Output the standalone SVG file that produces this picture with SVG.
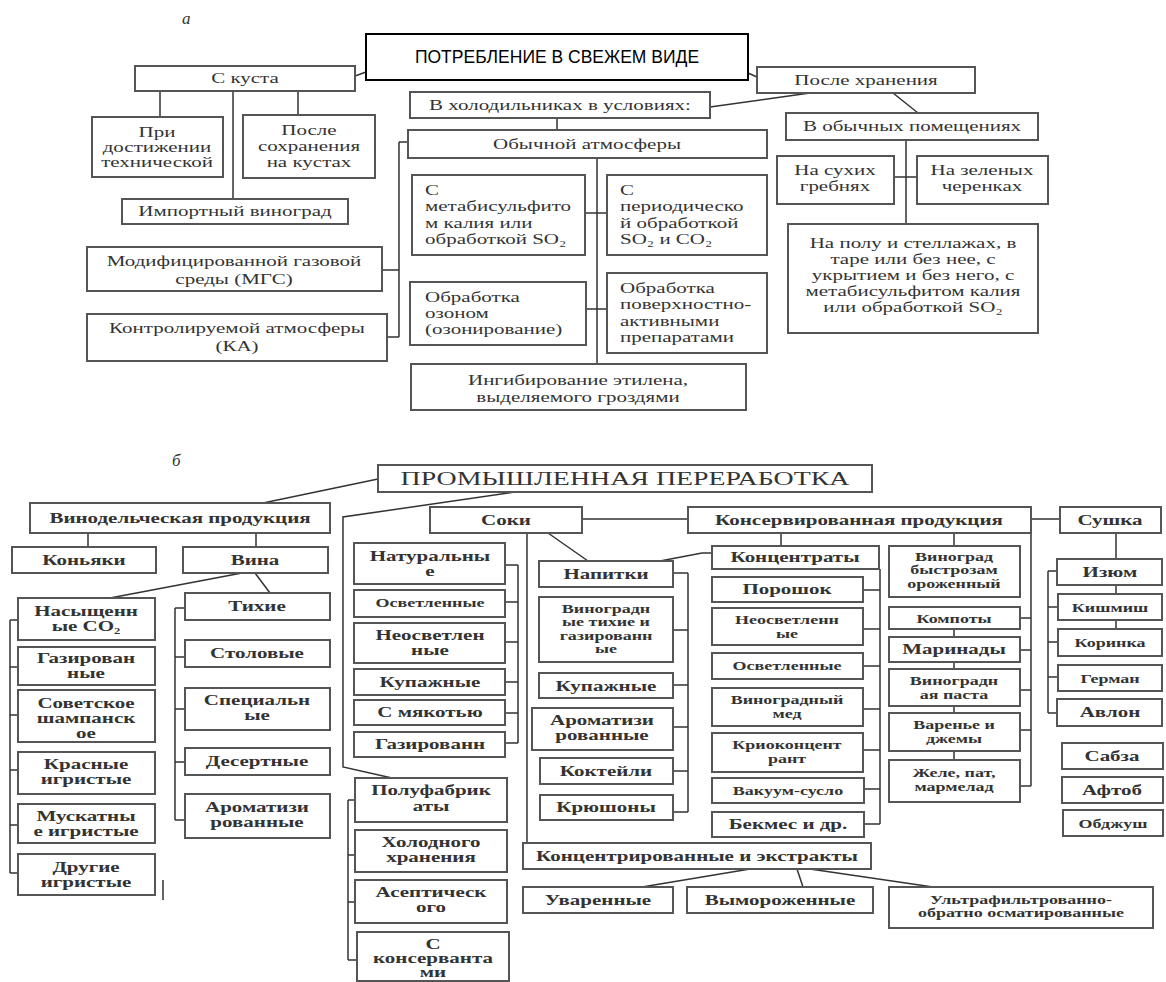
<svg xmlns="http://www.w3.org/2000/svg" width="1166" height="982" viewBox="0 0 1166 982">
<style>
  .bx{fill:#fff;stroke:#555;stroke-width:2}
  .bk{fill:#fff;stroke:#000;stroke-width:2}
  .ln{fill:none;stroke:#333;stroke-width:1.5}
  .t{font-family:"Liberation Serif","Times New Roman",serif;font-size:15px;fill:#333;text-anchor:middle}
  .tl{font-family:"Liberation Serif","Times New Roman",serif;font-size:15px;fill:#333;text-anchor:start}
  .b{font-family:"Liberation Serif","Times New Roman",serif;font-size:14px;font-weight:bold;fill:#333;text-anchor:middle}
  .bs{font-family:"Liberation Serif","Times New Roman",serif;font-size:12px;font-weight:bold;fill:#333;text-anchor:middle}
  .h{font-family:"Liberation Sans",Arial,sans-serif;font-size:17.5px;fill:#000;text-anchor:middle}
  .hp{font-family:"Liberation Serif","Times New Roman",serif;font-size:18px;fill:#333;text-anchor:middle}
  .lab{font-family:"Liberation Serif","Times New Roman",serif;font-size:17px;font-style:italic;fill:#333}
</style>
<rect width="1166" height="982" fill="#fff"/>

<!-- part a: fresh consumption -->
<text class="lab" x="182" y="24">а</text>

<g id="connectors-a">
  <path class="ln" d="M355,76 L366,72"/>
  <path class="ln" d="M160,91 V117 M298,91 V115 M233,91 V199"/>
  <path class="ln" d="M399,142 V337 M382,270 H399 M387,337 H399 M399,142 H408"/>
  <path class="ln" d="M557,118 V130 M710,107 L810,93"/>
  <path class="ln" d="M597,158 V364 M585,213 H607 M586,309 H607"/>
  <path class="ln" d="M748,73 L757,77 M893,93 L918,113"/>
  <path class="ln" d="M906,140 V224 M894,177 H917"/>
</g>

<g id="n-fresh">
  <rect class="bk" x="366" y="34" width="382" height="46"/>
  <text class="h" x="557" y="63">ПОТРЕБЛЕНИЕ В СВЕЖЕМ ВИДЕ</text>
</g>
<g id="n-bush">
  <rect class="bx" x="135" y="66" width="220" height="25"/>
  <text class="t" transform="translate(245,83) scale(1.4 1)">С куста</text>
</g>
<g id="n-ripe">
  <rect class="bx" x="92" y="117" width="131" height="60"/>
  <text class="t" transform="translate(157,137) scale(1.4 1)"><tspan x="0">При</tspan><tspan x="0" dy="15">достижении</tspan><tspan x="0" dy="15">технической</tspan></text>
</g>
<g id="n-kept">
  <rect class="bx" x="243" y="115" width="132" height="63"/>
  <text class="t" transform="translate(309,135) scale(1.4 1)"><tspan x="0">После</tspan><tspan x="0" dy="16">сохранения</tspan><tspan x="0" dy="16">на кустах</tspan></text>
</g>
<g id="n-import">
  <rect class="bx" x="122" y="199" width="226" height="25"/>
  <text class="t" transform="translate(235,216) scale(1.4 1)">Импортный виноград</text>
</g>
<g id="n-mgs">
  <rect class="bx" x="87" y="247" width="295" height="44"/>
  <text class="t" transform="translate(234,266) scale(1.4 1)"><tspan x="0">Модифицированной газовой</tspan><tspan x="0" dy="18">среды (МГС)</tspan></text>
</g>
<g id="n-ka">
  <rect class="bx" x="87" y="314" width="300" height="47"/>
  <text class="t" transform="translate(237,333) scale(1.4 1)"><tspan x="0">Контролируемой атмосферы</tspan><tspan x="0" dy="18">(КА)</tspan></text>
</g>
<g id="n-fridge">
  <rect class="bx" x="410" y="92" width="300" height="26"/>
  <text class="t" transform="translate(560,110) scale(1.4 1)">В холодильниках в условиях:</text>
</g>
<g id="n-normal">
  <rect class="bx" x="408" y="130" width="359" height="28"/>
  <text class="t" transform="translate(587,149) scale(1.4 1)">Обычной атмосферы</text>
</g>
<g id="n-metabi">
  <rect class="bx" x="412" y="175" width="173" height="80"/>
  <text class="tl" transform="translate(425,195) scale(1.4 1)"><tspan x="0">С</tspan><tspan x="0" dy="16.5">метабисульфито</tspan><tspan x="0" dy="16.5">м калия или</tspan><tspan x="0" dy="16.5">обработкой SO₂</tspan></text>
</g>
<g id="n-period">
  <rect class="bx" x="607" y="175" width="160" height="80"/>
  <text class="tl" transform="translate(620,195) scale(1.4 1)"><tspan x="0">С</tspan><tspan x="0" dy="16.5">периодическо</tspan><tspan x="0" dy="16.5">й обработкой</tspan><tspan x="0" dy="16.5">SO₂ и CO₂</tspan></text>
</g>
<g id="n-ozone">
  <rect class="bx" x="410" y="282" width="176" height="63"/>
  <text class="tl" transform="translate(425,302) scale(1.4 1)"><tspan x="0">Обработка</tspan><tspan x="0" dy="16">озоном</tspan><tspan x="0" dy="16">(озонирование)</tspan></text>
</g>
<g id="n-surf">
  <rect class="bx" x="607" y="273" width="160" height="80"/>
  <text class="tl" transform="translate(620,293) scale(1.4 1)"><tspan x="0">Обработка</tspan><tspan x="0" dy="16.5">поверхностно-</tspan><tspan x="0" dy="16.5">активными</tspan><tspan x="0" dy="16.5">препаратами</tspan></text>
</g>
<g id="n-ethylene">
  <rect class="bx" x="411" y="364" width="335" height="46"/>
  <text class="t" transform="translate(578,385) scale(1.4 1)"><tspan x="0">Ингибирование этилена,</tspan><tspan x="0" dy="17">выделяемого гроздями</tspan></text>
</g>
<g id="n-after">
  <rect class="bx" x="757" y="67" width="218" height="26"/>
  <text class="t" transform="translate(866,85) scale(1.4 1)">После хранения</text>
</g>
<g id="n-rooms">
  <rect class="bx" x="786" y="113" width="252" height="27"/>
  <text class="t" transform="translate(912,131) scale(1.4 1)">В обычных помещениях</text>
</g>
<g id="n-dry">
  <rect class="bx" x="777" y="156" width="117" height="48"/>
  <text class="t" transform="translate(835,175) scale(1.4 1)"><tspan x="0">На сухих</tspan><tspan x="0" dy="16">гребнях</tspan></text>
</g>
<g id="n-green">
  <rect class="bx" x="917" y="156" width="131" height="48"/>
  <text class="t" transform="translate(982,175) scale(1.4 1)"><tspan x="0">На зеленых</tspan><tspan x="0" dy="16">черенках</tspan></text>
</g>
<g id="n-floor">
  <rect class="bx" x="788" y="224" width="250" height="109"/>
  <text class="t" transform="translate(913,248) scale(1.4 1)"><tspan x="0">На полу и стеллажах, в</tspan><tspan x="0" dy="16">таре или без нее, с</tspan><tspan x="0" dy="16">укрытием и без него, с</tspan><tspan x="0" dy="16">метабисульфитом калия</tspan><tspan x="0" dy="16">или обработкой SO₂</tspan></text>
</g>

<!-- part b: industrial processing -->
<text class="lab" x="172" y="466">б</text>

<g id="connectors-b">
  <path class="ln" d="M378,479 L263,503 M515,492 L343,517 V767 L392,778"/>
  <path class="ln" d="M88,533 V547 M256,533 V547 M242,573 L110,598 M255,573 L270,593"/>
  <path class="ln" d="M10,620 V873 M10,620 H18 M10,667 H18 M10,715 H18 M10,770 H18 M10,825 H18 M10,873 H18"/>
  <path class="ln" d="M163,880 V900"/>
  <path class="ln" d="M175,608 V820 M175,608 H185 M175,657 H185 M175,709 H185 M175,762 H185 M175,820 H185"/>
  <path class="ln" d="M582,519 H688 M527,533 V843 M548,533 L588,561"/>
  <path class="ln" d="M518,565 V743 M505,565 H518 M505,602 H518 M505,642 H518 M505,682 H518 M505,713 H518 M505,743 H518"/>
  <path class="ln" d="M348,800 V960 M348,800 H355 M348,855 H355 M348,902 H355 M348,960 H357"/>
  <path class="ln" d="M688,573 V812 M673,573 H688 M673,630 H688 M673,685 H688 M673,727 H688 M673,771 H688 M673,812 H688"/>
  <path class="ln" d="M660,561 L702,553 H712"/>
  <path class="ln" d="M781,533 V546 M954,533 V546"/>
  <path class="ln" d="M880,569 V824 M863,590 H880 M863,629 H880 M863,666 H880 M863,709 H880 M863,750 H880 M864,789 H880 M864,824 H880"/>
  <path class="ln" d="M1031,533 V786 M1020,618 H1031 M1020,650 H1031 M1020,690 H1031 M1020,730 H1031 M1020,786 H1031"/>
  <path class="ln" d="M954,629 V637 M954,662 V669 M954,706 V713 M954,751 V760"/>
  <path class="ln" d="M1031,519 H1060 M1116,533 V559 M1116,585 V594 M1116,620 V629"/>
  <path class="ln" d="M1048,571 V713 M1048,571 H1057 M1048,607 H1058 M1048,642 H1058 M1048,677 H1058 M1048,713 H1057"/>
  <path class="ln" d="M750,869 L642,887 M797,869 L803,887 M810,869 L933,887"/>
</g>

<g id="n-industry">
  <rect class="bx" x="378" y="465" width="494" height="27"/>
  <text class="hp" transform="translate(625,485) scale(1.55 1)">ПРОМЫШЛЕННАЯ ПЕРЕРАБОТКА</text>
</g>
<g id="n-wine">
  <rect class="bx" x="30" y="503" width="300" height="30"/>
  <text class="b" transform="translate(180,523) scale(1.5 1)">Винодельческая продукция</text>
</g>
<g id="n-cognac">
  <rect class="bx" x="12" y="547" width="144" height="26"/>
  <text class="b" transform="translate(84,565) scale(1.5 1)">Коньяки</text>
</g>
<g id="n-wines">
  <rect class="bx" x="183" y="547" width="145" height="26"/>
  <text class="b" transform="translate(255,565) scale(1.5 1)">Вина</text>
</g>
<g id="n-co2">
  <rect class="bx" x="18" y="598" width="137" height="42"/>
  <text class="b" transform="translate(86,616) scale(1.5 1)"><tspan x="0">Насыщенн</tspan><tspan x="0" dy="15">ые CO₂</tspan></text>
</g>
<g id="n-sparkling">
  <rect class="bx" x="18" y="647" width="137" height="38"/>
  <text class="b" transform="translate(86,663) scale(1.5 1)"><tspan x="0">Газирован</tspan><tspan x="0" dy="15">ные</tspan></text>
</g>
<g id="n-champagne">
  <rect class="bx" x="18" y="690" width="137" height="52"/>
  <text class="b" transform="translate(86,708) scale(1.5 1)"><tspan x="0">Советское</tspan><tspan x="0" dy="15">шампанск</tspan><tspan x="0" dy="15">ое</tspan></text>
</g>
<g id="n-red">
  <rect class="bx" x="18" y="752" width="137" height="42"/>
  <text class="b" transform="translate(86,769) scale(1.5 1)"><tspan x="0">Красные</tspan><tspan x="0" dy="15">игристые</tspan></text>
</g>
<g id="n-muscat">
  <rect class="bx" x="18" y="804" width="137" height="39"/>
  <text class="b" transform="translate(86,821) scale(1.5 1)"><tspan x="0">Мускатны</tspan><tspan x="0" dy="15">е игристые</tspan></text>
</g>
<g id="n-other">
  <rect class="bx" x="18" y="854" width="137" height="41"/>
  <text class="b" transform="translate(86,872) scale(1.5 1)"><tspan x="0">Другие</tspan><tspan x="0" dy="15">игристые</tspan></text>
</g>
<g id="n-still">
  <rect class="bx" x="185" y="593" width="145" height="27"/>
  <text class="b" transform="translate(257,611) scale(1.5 1)">Тихие</text>
</g>
<g id="n-table">
  <rect class="bx" x="185" y="640" width="145" height="27"/>
  <text class="b" transform="translate(257,658) scale(1.5 1)">Столовые</text>
</g>
<g id="n-special">
  <rect class="bx" x="185" y="688" width="145" height="42"/>
  <text class="b" transform="translate(257,705) scale(1.5 1)"><tspan x="0">Специальн</tspan><tspan x="0" dy="15">ые</tspan></text>
</g>
<g id="n-dessert">
  <rect class="bx" x="185" y="748" width="145" height="27"/>
  <text class="b" transform="translate(257,766) scale(1.5 1)">Десертные</text>
</g>
<g id="n-arom-wine">
  <rect class="bx" x="185" y="794" width="145" height="44"/>
  <text class="b" transform="translate(257,812) scale(1.5 1)"><tspan x="0">Ароматизи</tspan><tspan x="0" dy="15">рованные</tspan></text>
</g>

<g id="n-juice">
  <rect class="bx" x="430" y="507" width="152" height="26"/>
  <text class="b" transform="translate(506,525) scale(1.5 1)">Соки</text>
</g>
<g id="n-natural">
  <rect class="bx" x="354" y="543" width="151" height="41"/>
  <text class="b" transform="translate(430,561) scale(1.5 1)"><tspan x="0">Натуральны</tspan><tspan x="0" dy="15">е</tspan></text>
</g>
<g id="n-clar1">
  <rect class="bx" x="354" y="590" width="151" height="27"/>
  <text class="bs" transform="translate(430,607) scale(1.5 1)">Осветленные</text>
</g>
<g id="n-unclar1">
  <rect class="bx" x="354" y="623" width="151" height="40"/>
  <text class="b" transform="translate(430,640) scale(1.5 1)"><tspan x="0">Неосветлен</tspan><tspan x="0" dy="15">ные</tspan></text>
</g>
<g id="n-blend1">
  <rect class="bx" x="354" y="669" width="151" height="26"/>
  <text class="b" transform="translate(430,687) scale(1.5 1)">Купажные</text>
</g>
<g id="n-pulp">
  <rect class="bx" x="354" y="700" width="151" height="25"/>
  <text class="b" transform="translate(430,717) scale(1.5 1)">С мякотью</text>
</g>
<g id="n-carb">
  <rect class="bx" x="354" y="732" width="151" height="25"/>
  <text class="b" transform="translate(430,749) scale(1.5 1)">Газированн</text>
</g>
<g id="n-semi">
  <rect class="bx" x="355" y="778" width="152" height="44"/>
  <text class="b" transform="translate(431,795) scale(1.5 1)"><tspan x="0">Полуфабрик</tspan><tspan x="0" dy="16">аты</tspan></text>
</g>
<g id="n-cold">
  <rect class="bx" x="355" y="830" width="152" height="42"/>
  <text class="b" transform="translate(431,847) scale(1.5 1)"><tspan x="0">Холодного</tspan><tspan x="0" dy="15">хранения</tspan></text>
</g>
<g id="n-aseptic">
  <rect class="bx" x="355" y="880" width="152" height="43"/>
  <text class="b" transform="translate(431,897) scale(1.5 1)"><tspan x="0">Асептическ</tspan><tspan x="0" dy="15">ого</tspan></text>
</g>
<g id="n-preserv">
  <rect class="bx" x="357" y="932" width="152" height="49"/>
  <text class="b" transform="translate(433,949) scale(1.5 1)"><tspan x="0">С</tspan><tspan x="0" dy="14">консерванта</tspan><tspan x="0" dy="14">ми</tspan></text>
</g>

<g id="n-drinks">
  <rect class="bx" x="539" y="561" width="134" height="26"/>
  <text class="b" transform="translate(606,579) scale(1.5 1)">Напитки</text>
</g>
<g id="n-grape-drinks">
  <rect class="bx" x="539" y="597" width="134" height="65"/>
  <text class="bs" transform="translate(606,613) scale(1.5 1)"><tspan x="0">Виноградн</tspan><tspan x="0" dy="13.5">ые тихие и</tspan><tspan x="0" dy="13.5">газированн</tspan><tspan x="0" dy="13.5">ые</tspan></text>
</g>
<g id="n-blend2">
  <rect class="bx" x="539" y="673" width="134" height="25"/>
  <text class="b" transform="translate(606,691) scale(1.5 1)">Купажные</text>
</g>
<g id="n-arom-drinks">
  <rect class="bx" x="532" y="708" width="141" height="42"/>
  <text class="b" transform="translate(602,725) scale(1.5 1)"><tspan x="0">Ароматизи</tspan><tspan x="0" dy="15">рованные</tspan></text>
</g>
<g id="n-cocktails">
  <rect class="bx" x="540" y="758" width="133" height="26"/>
  <text class="b" transform="translate(606,776) scale(1.5 1)">Коктейли</text>
</g>
<g id="n-punch">
  <rect class="bx" x="540" y="795" width="133" height="25"/>
  <text class="b" transform="translate(606,812) scale(1.5 1)">Крюшоны</text>
</g>

<g id="n-canned">
  <rect class="bx" x="688" y="507" width="343" height="26"/>
  <text class="b" transform="translate(859,525) scale(1.5 1)">Консервированная продукция</text>
</g>
<g id="n-conc">
  <rect class="bx" x="712" y="546" width="167" height="23"/>
  <text class="b" transform="translate(795,562) scale(1.5 1)">Концентраты</text>
</g>
<g id="n-powder">
  <rect class="bx" x="712" y="577" width="151" height="25"/>
  <text class="b" transform="translate(787,594) scale(1.5 1)">Порошок</text>
</g>
<g id="n-unclar2">
  <rect class="bx" x="712" y="608" width="151" height="37"/>
  <text class="bs" transform="translate(787,624) scale(1.5 1)"><tspan x="0">Неосветленн</tspan><tspan x="0" dy="14">ые</tspan></text>
</g>
<g id="n-clar2">
  <rect class="bx" x="712" y="653" width="151" height="26"/>
  <text class="bs" transform="translate(787,670) scale(1.5 1)">Осветленные</text>
</g>
<g id="n-honey">
  <rect class="bx" x="712" y="688" width="151" height="38"/>
  <text class="bs" transform="translate(787,704) scale(1.5 1)"><tspan x="0">Виноградный</tspan><tspan x="0" dy="14">мед</tspan></text>
</g>
<g id="n-cryo">
  <rect class="bx" x="712" y="733" width="151" height="39"/>
  <text class="bs" transform="translate(787,749) scale(1.5 1)"><tspan x="0">Криоконцент</tspan><tspan x="0" dy="14">рант</tspan></text>
</g>
<g id="n-vacuum">
  <rect class="bx" x="712" y="778" width="152" height="25"/>
  <text class="bs" transform="translate(788,795) scale(1.5 1)">Вакуум-сусло</text>
</g>
<g id="n-bekmes">
  <rect class="bx" x="712" y="812" width="152" height="25"/>
  <text class="b" transform="translate(788,829) scale(1.5 1)">Бекмес и др.</text>
</g>

<g id="n-frozen">
  <rect class="bx" x="889" y="546" width="131" height="51"/>
  <text class="bs" transform="translate(954,561) scale(1.5 1)"><tspan x="0">Виноград</tspan><tspan x="0" dy="13.5">быстрозам</tspan><tspan x="0" dy="13.5">ороженный</tspan></text>
</g>
<g id="n-compote">
  <rect class="bx" x="889" y="607" width="131" height="22"/>
  <text class="bs" transform="translate(954,623) scale(1.5 1)">Компоты</text>
</g>
<g id="n-marinade">
  <rect class="bx" x="889" y="637" width="131" height="25"/>
  <text class="b" transform="translate(954,654) scale(1.5 1)">Маринады</text>
</g>
<g id="n-paste">
  <rect class="bx" x="889" y="669" width="131" height="37"/>
  <text class="bs" transform="translate(954,685) scale(1.5 1)"><tspan x="0">Виноградн</tspan><tspan x="0" dy="14">ая паста</tspan></text>
</g>
<g id="n-jam">
  <rect class="bx" x="889" y="713" width="131" height="38"/>
  <text class="bs" transform="translate(954,729) scale(1.5 1)"><tspan x="0">Варенье и</tspan><tspan x="0" dy="14">джемы</tspan></text>
</g>
<g id="n-jelly">
  <rect class="bx" x="889" y="760" width="131" height="42"/>
  <text class="bs" transform="translate(954,777) scale(1.5 1)"><tspan x="0">Желе, пат,</tspan><tspan x="0" dy="14">мармелад</tspan></text>
</g>

<g id="n-dried">
  <rect class="bx" x="1060" y="507" width="101" height="26"/>
  <text class="b" transform="translate(1110,525) scale(1.5 1)">Сушка</text>
</g>
<g id="n-raisin">
  <rect class="bx" x="1057" y="559" width="105" height="26"/>
  <text class="b" transform="translate(1110,577) scale(1.5 1)">Изюм</text>
</g>
<g id="n-kishmish">
  <rect class="bx" x="1058" y="594" width="104" height="26"/>
  <text class="bs" transform="translate(1110,612) scale(1.5 1)">Кишмиш</text>
</g>
<g id="n-corinth">
  <rect class="bx" x="1058" y="629" width="104" height="27"/>
  <text class="bs" transform="translate(1110,647) scale(1.5 1)">Коринка</text>
</g>
<g id="n-german">
  <rect class="bx" x="1058" y="665" width="104" height="26"/>
  <text class="bs" transform="translate(1110,683) scale(1.5 1)">Герман</text>
</g>
<g id="n-avlon">
  <rect class="bx" x="1057" y="699" width="105" height="27"/>
  <text class="b" transform="translate(1110,717) scale(1.5 1)">Авлон</text>
</g>
<g id="n-sabza">
  <rect class="bx" x="1062" y="743" width="101" height="26"/>
  <text class="b" transform="translate(1112,761) scale(1.5 1)">Сабза</text>
</g>
<g id="n-aftob">
  <rect class="bx" x="1062" y="777" width="101" height="26"/>
  <text class="b" transform="translate(1112,795) scale(1.5 1)">Афтоб</text>
</g>
<g id="n-obdzhush">
  <rect class="bx" x="1063" y="810" width="100" height="26"/>
  <text class="bs" transform="translate(1113,828) scale(1.5 1)">Обджуш</text>
</g>

<g id="n-extracts">
  <rect class="bx" x="523" y="843" width="348" height="26"/>
  <text class="b" transform="translate(697,861) scale(1.5 1)">Концентрированные и экстракты</text>
</g>
<g id="n-boiled">
  <rect class="bx" x="523" y="887" width="150" height="26"/>
  <text class="b" transform="translate(598,905) scale(1.5 1)">Уваренные</text>
</g>
<g id="n-freeze">
  <rect class="bx" x="687" y="887" width="186" height="26"/>
  <text class="b" transform="translate(780,905) scale(1.5 1)">Вымороженные</text>
</g>
<g id="n-ultra">
  <rect class="bx" x="889" y="887" width="264" height="41"/>
  <text class="bs" transform="translate(1021,904) scale(1.5 1)"><tspan x="0">Ультрафильтрованно-</tspan><tspan x="0" dy="13">обратно осматированные</tspan></text>
</g>
</svg>
